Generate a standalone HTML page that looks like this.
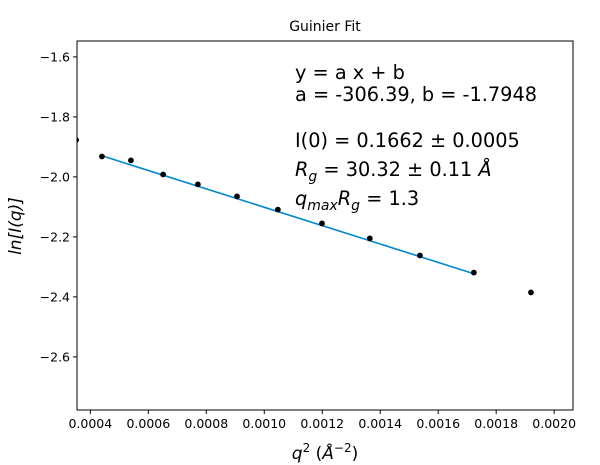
<!DOCTYPE html>
<html><head><meta charset="utf-8"><style>
html,body{margin:0;padding:0;background:#fff;}
svg{display:block;font-family:"DejaVu Sans","Liberation Sans",sans-serif;}
</style></head><body>
<svg id="chart" width="600" height="465" viewBox="0 0 600 465">
<rect x="0" y="0" width="600" height="465" fill="#fff"/>
<text x="325" y="31" font-size="14" text-anchor="middle">Guinier Fit</text>
<g id="plot"></g>
<g font-size="19.3" fill="#000">
<text x="295" y="79">y = a x + b</text>
<text x="295" y="101">a = -306.39, b = -1.7948</text>
<text x="295" y="147">I(0) = 0.1662 ± 0.0005</text>
<text x="295" y="176"><tspan font-style="italic">R</tspan><tspan font-style="italic" font-size="14" dy="5">g</tspan><tspan dy="-5"> = 30.32 ± 0.11 </tspan><tspan font-style="italic">Å</tspan></text>
<text x="295" y="205"><tspan font-style="italic">q</tspan><tspan font-style="italic" font-size="14" dy="5">max</tspan><tspan font-style="italic" dy="-5">R</tspan><tspan font-style="italic" font-size="14" dy="5">g</tspan><tspan dy="-5"> = 1.3</tspan></text>
</g>
<text x="325" y="459" font-size="17" text-anchor="middle"><tspan font-style="italic">q</tspan><tspan font-size="12" dy="-7">2</tspan><tspan dy="7"> (</tspan><tspan font-style="italic">Å</tspan><tspan font-size="12" dy="-7">−2</tspan><tspan dy="7">)</tspan></text>
<text transform="translate(21,226) rotate(-90)" font-size="17" font-style="italic" text-anchor="middle">ln[I(q)]</text>
</svg>
<script>
const qSquared = [0.000351,0.000440,0.000540,0.000651,0.000771,0.000906,0.001047,0.001199,0.001364,0.001537,0.001723,0.001920];
const lnI = [-1.877,-1.932,-1.945,-1.992,-2.025,-2.065,-2.109,-2.155,-2.205,-2.262,-2.319,-2.385];
const fitSlope = -306.39;
const fitIntercept = -1.7948;
const fitRange = [0.000440,0.001723];
const xTicks = [0.0004,0.0006,0.0008,0.0010,0.0012,0.0014,0.0016,0.0018,0.0020];
const xTickLabels = ["0.0004","0.0006","0.0008","0.0010","0.0012","0.0014","0.0016","0.0018","0.0020"];
const yTicks = [-1.6,-1.8,-2.0,-2.2,-2.4,-2.6];
const yTickLabels = ["−1.6","−1.8","−2.0","−2.2","−2.4","−2.6"];

const L=77,R=573,T=41,B=410;
const xMin=0.000354,xMax=0.002065,yMax=-1.547,yMin=-2.777;
const sx=v=>L+(v-xMin)/(xMax-xMin)*(R-L);
const sy=v=>T+(yMax-v)/(yMax-yMin)*(B-T);
const NS="http://www.w3.org/2000/svg";
const g=document.getElementById('plot');
function mk(t,a){const e=document.createElementNS(NS,t);for(const k in a)e.setAttribute(k,a[k]);g.appendChild(e);return e;}
const clip=mk('clipPath',{id:'pc'});
const cr=document.createElementNS(NS,'rect');cr.setAttribute('x',L);cr.setAttribute('y',T);cr.setAttribute('width',R-L);cr.setAttribute('height',B-T);clip.appendChild(cr);
const fl=mk('line',{x1:sx(fitRange[0]),y1:sy(fitSlope*fitRange[0]+fitIntercept),x2:sx(fitRange[1]),y2:sy(fitSlope*fitRange[1]+fitIntercept),stroke:'#0088cc','stroke-width':1.6,'clip-path':'url(#pc)'});


qSquared.forEach((q,i)=>{
  const c=mk('circle',{cx:sx(q),cy:sy(lnI[i]),r:2.9,fill:'#000','clip-path':'url(#pc)'});
  
  
});
const fr=mk('rect',{x:L,y:T,width:R-L,height:B-T,fill:'none',stroke:'#000','stroke-width':1});


xTicks.forEach((v,i)=>{
  const x=sx(v);
  const tl=mk('line',{x1:x,y1:B,x2:x,y2:B+4,stroke:'#000'});
  
  
  const t=mk('text',{x:x,y:B+18,'font-size':12.5,'text-anchor':'middle'});
  t.textContent=xTickLabels[i];
  
  
});
yTicks.forEach((v,i)=>{
  const y=sy(v);
  const tl=mk('line',{x1:L-4,y1:y,x2:L,y2:y,stroke:'#000'});
  
  
  const t=mk('text',{x:L-7,y:y+4.5,'font-size':12.5,'text-anchor':'end'});
  t.textContent=yTickLabels[i];
  
  
});
</script>
</body></html>
